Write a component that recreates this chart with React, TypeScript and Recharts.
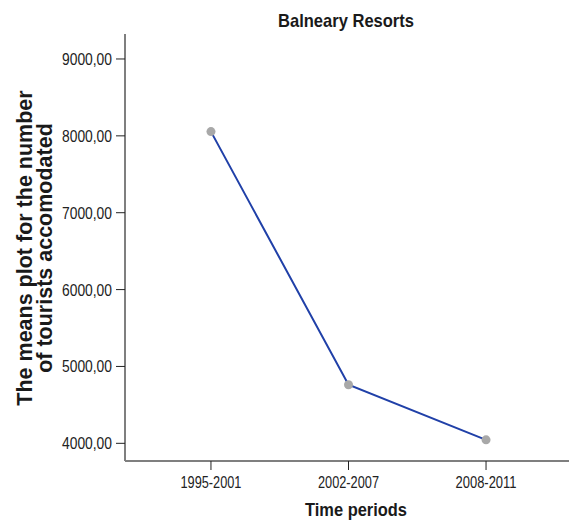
import React from 'react';
import { LineChart, Line, XAxis, YAxis, Label } from 'recharts';

const periods = ['1995-2001', '2002-2007', '2008-2011'];
const meanTourists = [8055, 4762, 4045];
const yTicks = [4000, 5000, 6000, 7000, 8000, 9000];

const data = periods.map((p, i) => ({ idx: i, period: p, value: meanTourists[i] }));

const sans = '"Liberation Sans", Arial, sans-serif';

const fmt = (v: number) => v.toFixed(2).replace('.', ',');

const XTick = (props: any) => {
  const { x, y, payload } = props;
  return (
    <text x={x} y={y + 16} textAnchor="middle" textLength={61} lengthAdjust="spacingAndGlyphs"
      style={{ fontFamily: sans, fontSize: 17, fill: '#222' }}>
      {periods[payload.value]}
    </text>
  );
};

const YTick = (props: any) => {
  const { x, y, payload } = props;
  return (
    <text x={x} y={y + 6} textAnchor="end" textLength={50} lengthAdjust="spacingAndGlyphs"
      style={{ fontFamily: sans, fontSize: 17, fill: '#222' }}>
      {fmt(payload.value)}
    </text>
  );
};

export default function App() {
  return (
    <div style={{ position: 'fixed', left: 0, top: 0, width: 569, height: 523, overflow: 'hidden', background: '#fff' }}>
      <LineChart width={572} height={523} data={data} margin={{ top: 34, right: 0, left: 0, bottom: 0 }}>
        <text x={346} y={27} textAnchor="middle" textLength={136} lengthAdjust="spacingAndGlyphs"
          style={{ fontFamily: sans, fontWeight: 700, fontSize: 19, fill: '#1a1a1a' }}>
          Balneary Resorts
        </text>
        <XAxis
          xAxisId="top"
          orientation="top"
          dataKey="idx"
          type="number"
          domain={[-0.625, 2.625]}
          ticks={[]}
          tick={false}
          height={0}
          axisLine={{ stroke: '#7f7f7f', strokeWidth: 2 }}
        />
        <XAxis
          dataKey="idx"
          type="number"
          domain={[-0.625, 2.625]}
          ticks={[0, 1, 2]}
          height={62}
          tickSize={9}
          tickMargin={2}
          axisLine={{ stroke: '#7f7f7f', strokeWidth: 2 }}
          tickLine={{ stroke: '#222', strokeWidth: 1 }}
          tick={<XTick />}
        >
          <Label
            content={() => (
              <text x={356} y={516} textAnchor="middle" textLength={102} lengthAdjust="spacingAndGlyphs"
                style={{ fontFamily: sans, fontWeight: 700, fontSize: 19, fill: '#1a1a1a' }}>
                Time periods
              </text>
            )}
          />
        </XAxis>
        <YAxis
          dataKey="value"
          type="number"
          domain={[3770, 9325]}
          ticks={yTicks}
          width={125}
          tickSize={9}
          tickMargin={4}
          axisLine={{ stroke: '#7f7f7f', strokeWidth: 2 }}
          tickLine={{ stroke: '#222', strokeWidth: 1 }}
          tick={<YTick />}
          label={{
            content: () => (
              <g>
                <text x={25} y={248} textAnchor="middle" dominantBaseline="central" transform="rotate(-90 25 248)"
                  style={{ fontFamily: sans, fontWeight: 700, fontSize: 21.5, fill: '#1a1a1a' }}>
                  The means plot for the number
                </text>
                <text x={45} y={248} textAnchor="middle" dominantBaseline="central" transform="rotate(-90 45 248)"
                  style={{ fontFamily: sans, fontWeight: 700, fontSize: 21.5, fill: '#1a1a1a' }}>
                  of tourists accomodated
                </text>
              </g>
            ),
          }}
        />
        <Line
          dataKey="value"
          stroke="#2040a8"
          strokeWidth={2}
          isAnimationActive={false}
          dot={{ r: 4.5, fill: '#a8a8a8', stroke: 'none' }}
          activeDot={false}
        />
      </LineChart>
    </div>
  );
}
